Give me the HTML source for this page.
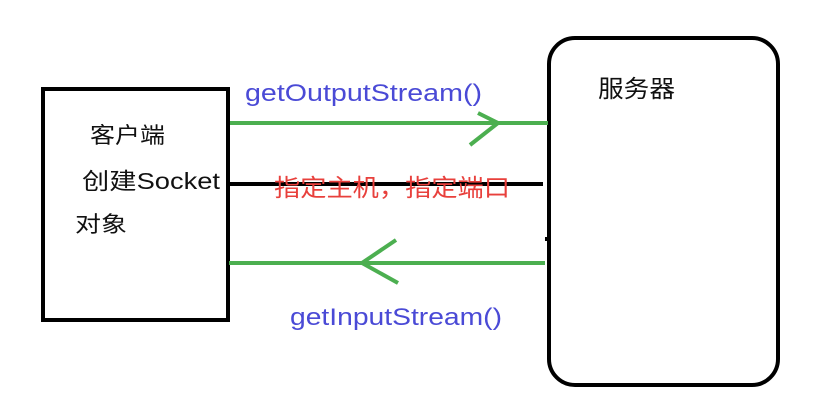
<!DOCTYPE html>
<html><head><meta charset="utf-8"><style>
html,body{margin:0;padding:0;background:#fff;width:826px;height:410px;overflow:hidden}
svg{display:block}
text{font-family:"Liberation Sans","Noto Sans CJK SC",sans-serif}
</style></head><body>
<svg width="826" height="410" viewBox="0 0 826 410" xmlns="http://www.w3.org/2000/svg">
<rect x="0" y="0" width="826" height="410" fill="#fff"/>
<rect x="43" y="89" width="185" height="231" fill="none" stroke="#000" stroke-width="4"/>
<rect x="549" y="38" width="229" height="347" rx="26" ry="26" fill="none" stroke="#000" stroke-width="4"/>
<line x1="230" y1="123" x2="548" y2="123" stroke="#4caf50" stroke-width="4"/>
<polyline points="478,113 498,123 470,145" fill="none" stroke="#4caf50" stroke-width="4"/>
<line x1="229" y1="184" x2="543" y2="184" stroke="#000" stroke-width="4"/>
<line x1="229" y1="263" x2="545" y2="263" stroke="#4caf50" stroke-width="4"/>
<polyline points="396,240 362,263 398,283" fill="none" stroke="#4caf50" stroke-width="4"/>
<rect x="545" y="237" width="3" height="4" fill="#000"/>
<text x="245" y="101" font-size="24" fill="#4a4ad6" textLength="237" lengthAdjust="spacingAndGlyphs">getOutputStream()</text>
<text x="290" y="325" font-size="24" fill="#4a4ad6" textLength="212" lengthAdjust="spacingAndGlyphs">getInputStream()</text>
<text x="274" y="196" font-size="24" fill="#e8403c" textLength="236" lengthAdjust="spacingAndGlyphs">指定主机，指定端口</text>
<text x="90" y="143" font-size="22" fill="#111" textLength="75" lengthAdjust="spacingAndGlyphs">客户端</text>
<text x="82" y="189" font-size="23" fill="#111" textLength="138" lengthAdjust="spacingAndGlyphs">创建Socket</text>
<text x="75" y="232" font-size="22" fill="#111" textLength="52" lengthAdjust="spacingAndGlyphs">对象</text>
<text x="598" y="97" font-size="24" fill="#111" textLength="77" lengthAdjust="spacingAndGlyphs">服务器</text>
</svg>
</body></html>
